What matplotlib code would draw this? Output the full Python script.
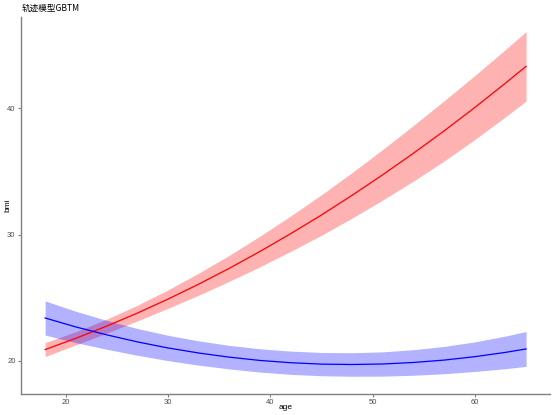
import matplotlib
matplotlib.use("Agg")
import matplotlib.pyplot as plt

plt.rcParams['font.family'] = ['Liberation Sans', 'Noto Sans CJK SC', 'DejaVu Sans']

age = [18, 21, 24, 27, 30, 33, 36, 39, 42, 45, 48, 51, 54, 57, 60, 63, 65]

# group 1 (red, rising)
red_fit = [20.90, 21.79, 22.75, 23.78, 24.89, 26.07, 27.33, 28.66, 30.07,
           31.54, 33.10, 34.73, 36.43, 38.20, 40.05, 41.98, 43.30]
red_lo = [20.35, 21.27, 22.20, 23.16, 24.16, 25.20, 26.30, 27.45, 28.67,
          29.94, 31.30, 32.73, 34.23, 35.82, 37.52, 39.32, 40.55]
red_hi = [21.45, 22.31, 23.30, 24.40, 25.62, 26.94, 28.36, 29.87, 31.47,
          33.14, 34.90, 36.73, 38.63, 40.58, 42.58, 44.64, 46.05]

# group 2 (blue, u-shaped)
blue_fit = [23.40, 22.69, 22.07, 21.51, 21.03, 20.63, 20.30, 20.04, 19.86,
            19.75, 19.72, 19.76, 19.88, 20.07, 20.34, 20.68, 20.95]
blue_lo = [22.05, 21.45, 20.93, 20.45, 20.03, 19.67, 19.37, 19.12, 18.94,
           18.83, 18.79, 18.80, 18.87, 18.99, 19.17, 19.39, 19.57]
blue_hi = [24.75, 23.93, 23.21, 22.57, 22.03, 21.59, 21.23, 20.96, 20.78,
           20.67, 20.65, 20.72, 20.89, 21.15, 21.51, 21.97, 22.33]

fig = plt.figure(figsize=(5.54, 4.15), dpi=100)
ax = fig.add_axes([0.038, 0.051, 0.955, 0.908])

ax.fill_between(age, red_lo, red_hi, color='red', alpha=0.3, linewidth=0)
ax.fill_between(age, blue_lo, blue_hi, color='blue', alpha=0.3, linewidth=0)
ax.plot(age, red_fit, color='red', linewidth=0.9)
ax.plot(age, blue_fit, color='blue', linewidth=0.9)

ax.set_xlim(15.65, 67.35)
ax.set_ylim(17.4, 47.2)
ax.set_xticks([20, 30, 40, 50, 60])
ax.set_yticks([20, 30, 40])

for side in ['top', 'right']:
    ax.spines[side].set_visible(False)
for side in ['left', 'bottom']:
    ax.spines[side].set_color('#808080')
    ax.spines[side].set_linewidth(1.0)
ax.tick_params(axis='both', colors='#808080', labelcolor='#4d4d4d', labelsize=5.5, length=2.5, width=0.8, pad=1.5)

ax.set_xlabel('age', fontsize=6)
ax.xaxis.set_label_coords(0.5, -0.037)
ax.xaxis.label.set_va('center')
ax.set_ylabel('bmi', fontsize=6)
ax.yaxis.set_label_coords(-0.024, 0.5)
ax.yaxis.label.set_va('center')

fig.text(0.040, 0.9795, '轨迹模型GBTM', fontsize=6.2, family=['Noto Sans CJK SC', 'DejaVu Sans'],
         va='center', ha='left')

fig.savefig('out.png', dpi=100)
